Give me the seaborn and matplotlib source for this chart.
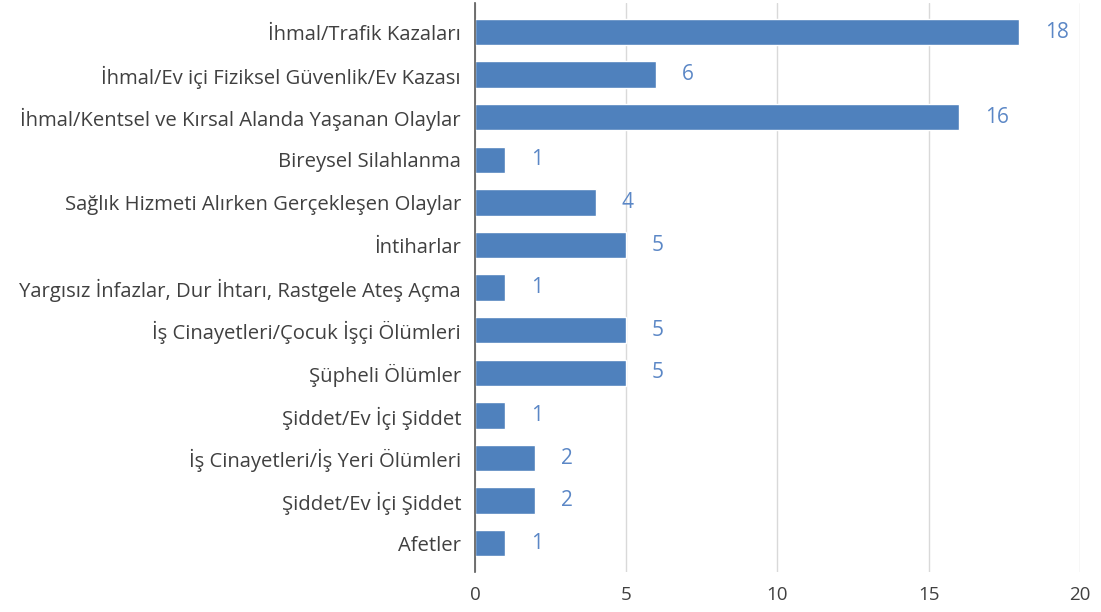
import pandas as pd
import numpy as np
import matplotlib
matplotlib.use("Agg")
import matplotlib.pyplot as plt
import seaborn as sns

kategoriler = [
    "İhmal/Trafik Kazaları",
    "İhmal/Ev içi Fiziksel Güvenlik/Ev Kazası",
    "İhmal/Kentsel ve Kırsal Alanda Yaşanan Olaylar",
    "Bireysel Silahlanma",
    "Sağlık Hizmeti Alırken Gerçekleşen Olaylar",
    "İntiharlar",
    "Yargısız İnfazlar, Dur İhtarı, Rastgele Ateş Açma",
    "İş Cinayetleri/Çocuk İşçi Ölümleri",
    "Şüpheli Ölümler",
    "Şiddet/Ev İçi Şiddet",
    "İş Cinayetleri/İş Yeri Ölümleri",
    "Şiddet/Ev İçi Şiddet",
    "Afetler",
]
degerler = [18, 6, 16, 1, 4, 5, 1, 5, 5, 1, 2, 2, 1]
x_ticks = [0, 5, 10, 15, 20]

# ayni isimli iki kategori var, bu yuzden sira numarasi ile ciziyoruz
df = pd.DataFrame({"sira": [str(i) for i in range(len(kategoriler))],
                   "deger": degerler})

sns.set_style("white")
plt.rcParams["font.family"] = ["Open Sans", "DejaVu Sans"]

fig = plt.figure(figsize=(11.01, 6.12), dpi=100)
ax = fig.add_axes([0.4314, 0.065, 0.5495, 0.93])

sns.barplot(data=df, x="deger", y="sira", orient="h", color="#4f81bd",
            saturation=1, width=0.62, ax=ax, zorder=3)
ax.set_yticks(range(len(kategoriler)))
ax.set_yticklabels(kategoriler)

# deger etiketleri
for i, v in enumerate(degerler):
    ax.text(v + 0.85, i, str(v), va="center", ha="left", fontsize=15,
            color="#5b87c6")

ax.set_xlim(0, 20)
ax.set_ylim(12.68, -0.68)
ax.set_xticks(x_ticks)
ax.set_xlabel("")
ax.set_ylabel("")
ax.grid(axis="x", color="#d9d9d9", linewidth=1, zorder=0)
for s in ["top", "right", "bottom"]:
    ax.spines[s].set_visible(False)
ax.spines["left"].set_color("#595959")
ax.spines["left"].set_linewidth(1.2)
ax.spines["left"].set_zorder(4)
ax.tick_params(axis="both", length=0, labelcolor="#404040")
ax.tick_params(axis="y", pad=10, labelsize=14.6)
ax.tick_params(axis="x", pad=10, labelsize=13.5)

fig.savefig("out.png", dpi=100)
